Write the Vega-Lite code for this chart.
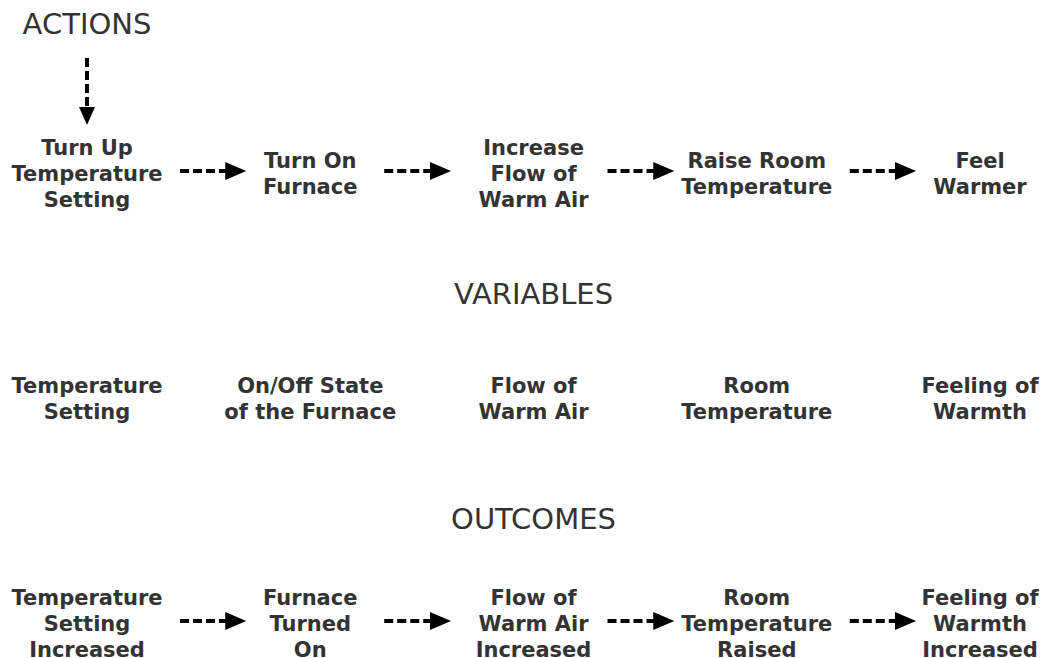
{
  "$schema": "https://vega.github.io/schema/vega-lite/v6.json",
  "width": 1044,
  "height": 658,
  "autosize": {"type": "none"},
  "padding": 0,
  "background": "white",
  "config": {"view": {"stroke": null}},
  "datasets": {
    "nodes": [
      {"section": "Actions", "step": 1, "label": "Turn Up\nTemperature\nSetting"},
      {"section": "Actions", "step": 2, "label": "Turn On\nFurnace"},
      {"section": "Actions", "step": 3, "label": "Increase\nFlow of\nWarm Air"},
      {"section": "Actions", "step": 4, "label": "Raise Room\nTemperature"},
      {"section": "Actions", "step": 5, "label": "Feel\nWarmer"},
      {"section": "Variables", "step": 1, "label": "Temperature\nSetting"},
      {"section": "Variables", "step": 2, "label": "On/Off State\nof the Furnace"},
      {"section": "Variables", "step": 3, "label": "Flow of\nWarm Air"},
      {"section": "Variables", "step": 4, "label": "Room\nTemperature"},
      {"section": "Variables", "step": 5, "label": "Feeling of\nWarmth"},
      {"section": "Outcomes", "step": 1, "label": "Temperature\nSetting\nIncreased"},
      {"section": "Outcomes", "step": 2, "label": "Furnace\nTurned\nOn"},
      {"section": "Outcomes", "step": 3, "label": "Flow of\nWarm Air\nIncreased"},
      {"section": "Outcomes", "step": 4, "label": "Room\nTemperature\nRaised"},
      {"section": "Outcomes", "step": 5, "label": "Feeling of\nWarmth\nIncreased"}
    ],
    "edges": [
      {"section": "Actions", "from": 1, "to": 2},
      {"section": "Actions", "from": 2, "to": 3},
      {"section": "Actions", "from": 3, "to": 4},
      {"section": "Actions", "from": 4, "to": 5},
      {"section": "Outcomes", "from": 1, "to": 2},
      {"section": "Outcomes", "from": 2, "to": 3},
      {"section": "Outcomes", "from": 3, "to": 4},
      {"section": "Outcomes", "from": 4, "to": 5}
    ],
    "headers": [
      {"section": "Actions", "step": 1, "header": "ACTIONS"},
      {"section": "Variables", "step": 3, "header": "VARIABLES"},
      {"section": "Outcomes", "step": 3, "header": "OUTCOMES"}
    ]
  },
  "encoding": {
    "x": {"field": "step", "type": "quantitative", "scale": {"domain": [0.6103, 5.2866], "nice": false, "zero": false}, "axis": null},
    "y": {"field": "section", "type": "nominal", "scale": {"type": "point", "domain": ["Actions", "Variables", "Outcomes"], "padding": 0.4622, "align": 0.8317}, "axis": null}
  },
  "layer": [
    {
      "data": {"name": "edges"},
      "transform": [{"filter": "datum.from === 1 || datum.from === 4"}],
      "mark": {"type": "rule", "color": "black", "strokeWidth": 4, "strokeDash": [9, 4], "xOffset": 93, "x2Offset": -80, "yOffset": -2, "y2Offset": -2},
      "encoding": {
        "x": {"field": "from", "type": "quantitative"},
        "x2": {"field": "to"}
      }
    },
    {
      "data": {"name": "edges"},
      "transform": [{"filter": "datum.from === 2 || datum.from === 3"}],
      "mark": {"type": "rule", "color": "black", "strokeWidth": 4, "strokeDash": [9, 4], "xOffset": 74, "x2Offset": -98, "yOffset": -2, "y2Offset": -2},
      "encoding": {
        "x": {"field": "from", "type": "quantitative"},
        "x2": {"field": "to"}
      }
    },
    {
      "data": {"name": "edges"},
      "transform": [{"filter": "datum.from === 1 || datum.from === 4"}],
      "mark": {"type": "point", "shape": "M -1 -0.857 L 1 0 L -1 0.857 Z", "size": 441, "filled": true, "color": "black", "opacity": 1, "strokeWidth": 0, "xOffset": -74.5, "yOffset": -2},
      "encoding": {
        "x": {"field": "to", "type": "quantitative"}
      }
    },
    {
      "data": {"name": "edges"},
      "transform": [{"filter": "datum.from === 2 || datum.from === 3"}],
      "mark": {"type": "point", "shape": "M -1 -0.857 L 1 0 L -1 0.857 Z", "size": 441, "filled": true, "color": "black", "opacity": 1, "strokeWidth": 0, "xOffset": -93, "yOffset": -2},
      "encoding": {
        "x": {"field": "to", "type": "quantitative"}
      }
    },
    {
      "data": {"name": "headers"},
      "transform": [{"filter": "datum.section === 'Actions'"}],
      "mark": {"type": "rule", "color": "black", "strokeWidth": 4, "strokeDash": [9, 4], "yOffset": -115, "y2Offset": -65},
      "encoding": {
        "y2": {"field": "section"}
      }
    },
    {
      "data": {"name": "headers"},
      "transform": [{"filter": "datum.section === 'Actions'"}],
      "mark": {"type": "point", "shape": "M -0.889 -1 L 0.889 -1 L 0 1 Z", "size": 324, "filled": true, "color": "black", "opacity": 1, "strokeWidth": 0, "yOffset": -57}
    },
    {
      "data": {"name": "headers"},
      "transform": [{"filter": "datum.section === 'Actions'"}],
      "mark": {"type": "text", "font": "DejaVu Sans", "fontSize": 29, "color": "#333333", "align": "center", "baseline": "middle", "yOffset": -148},
      "encoding": {"text": {"field": "header"}}
    },
    {
      "data": {"name": "headers"},
      "transform": [{"filter": "datum.section !== 'Actions'"}],
      "mark": {"type": "text", "font": "DejaVu Sans", "fontSize": 29, "color": "#333333", "align": "center", "baseline": "middle", "yOffset": -103},
      "encoding": {"text": {"field": "header"}}
    },
    {
      "data": {"name": "nodes"},
      "transform": [{"filter": "length(split(datum.label, '\\n')) === 3"}],
      "mark": {"type": "text", "font": "DejaVu Sans", "fontSize": 21, "fontWeight": "bold", "color": "#333333", "align": "center", "baseline": "middle", "lineBreak": "\n", "lineHeight": 26, "yOffset": -24},
      "encoding": {"text": {"field": "label"}}
    },
    {
      "data": {"name": "nodes"},
      "transform": [{"filter": "length(split(datum.label, '\\n')) === 2"}],
      "mark": {"type": "text", "font": "DejaVu Sans", "fontSize": 21, "fontWeight": "bold", "color": "#333333", "align": "center", "baseline": "middle", "lineBreak": "\n", "lineHeight": 26, "yOffset": -11},
      "encoding": {"text": {"field": "label"}}
    }
  ]
}
